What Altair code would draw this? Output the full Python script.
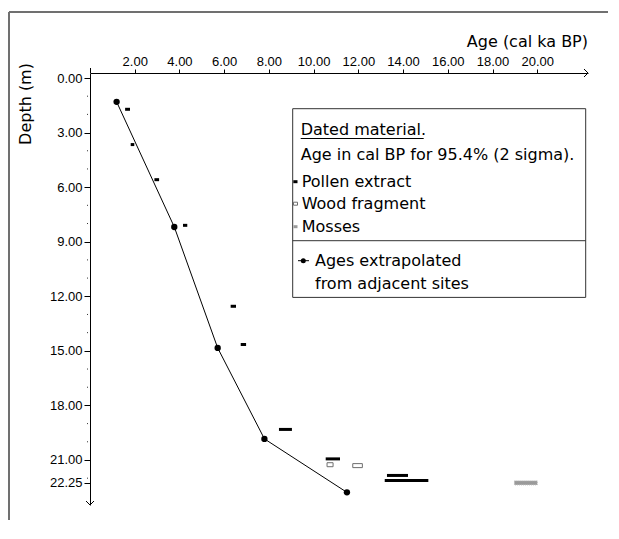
import altair as alt
import pandas as pd

# ---------------- data ----------------
ext_age = [1.19, 3.77, 5.71, 7.80, 11.49]
ext_depth = [1.31, 8.19, 14.84, 19.84, 22.78]

pollen_min = [1.57, 1.82, 2.88, 4.16, 6.29, 6.74, 8.45, 10.54, 13.28, 13.18]
pollen_max = [1.79, 1.98, 3.09, 4.35, 6.53, 6.98, 9.03, 11.18, 14.22, 15.13]
pollen_depth = [1.72, 3.66, 5.59, 8.10, 12.55, 14.65, 19.32, 20.94, 21.85, 22.13]

wood_min = [10.60, 11.75]
wood_max = [10.87, 12.18]
wood_depth = [21.26, 21.31]

moss_min = [18.98]
moss_max = [20.00]
moss_depth = [22.26]

age_ticks = [2, 4, 6, 8, 10, 12, 14, 16, 18, 20]
depth_ticks = [0, 3, 6, 9, 12, 15, 18, 21, 22.25]
depth_minor = [1, 2, 4, 5, 7, 8, 10, 11, 13, 14, 16, 17, 19, 20, 22]

x_title = "Age (cal ka BP)"
y_title = "Depth (m)"
legend_head = "Dated material."
legend_note = "Age in cal BP for 95.4% (2 sigma)."
legend_items = ["Pollen extract", "Wood fragment", "Mosses"]
legend_ext = ["Ages extrapolated", "from adjacent sites"]

# ---------------- layout ----------------
W, H = 498, 432
XMAX, YMAX = 22.27, 23.2
TXT = "DejaVu Sans"
TICKF = "Liberation Sans"

xs = alt.Scale(domain=[0, XMAX], nice=False, zero=False)
ys = alt.Scale(domain=[0, YMAX], nice=False, zero=False, reverse=True)

ext_df = pd.DataFrame({"age": ext_age, "depth": ext_depth})
pol_df = pd.DataFrame({"a0": pollen_min, "a1": pollen_max, "depth": pollen_depth})
wood_df = pd.DataFrame({"a0": wood_min, "a1": wood_max, "depth": wood_depth})
moss_df = pd.DataFrame({"a0": moss_min, "a1": moss_max, "depth": moss_depth})
minor_df = pd.DataFrame({"depth": depth_minor})
one = pd.DataFrame({"k": [0]})

x_axis = alt.Axis(orient="top", values=age_ticks, format=".2f", title=None, grid=False,
                  tickSize=4, tickColor="black", domainColor="black", labelColor="black",
                  labelFont=TICKF, labelFontSize=13, labelPadding=1, labelFlush=False)
y_axis = alt.Axis(orient="left", values=depth_ticks, format=".2f", title=None, grid=False,
                  tickSize=6, tickColor="black", domainColor="black", labelColor="black",
                  labelFont=TICKF, labelFontSize=13, labelPadding=2, labelFlush=False)

X = lambda f: alt.X(f, scale=xs, axis=x_axis)
Y = lambda f: alt.Y(f, scale=ys, axis=y_axis)

line = alt.Chart(ext_df).mark_line(color="black", strokeWidth=1).encode(
    x=X("age:Q"), y=Y("depth:Q"), order="depth:Q",
)
dots = alt.Chart(ext_df).mark_point(filled=True, color="black", size=40, opacity=1).encode(
    x=X("age:Q"), y=Y("depth:Q"),
)
pollen = alt.Chart(pol_df).mark_rule(color="black", strokeWidth=3, strokeCap="butt").encode(
    x=X("a0:Q"), x2="a1:Q", y=Y("depth:Q"),
)
wood = alt.Chart(wood_df).mark_bar(size=4, fill="white", stroke="#6e6e6e", strokeWidth=1).encode(
    x=X("a0:Q"), x2="a1:Q", y=Y("depth:Q"),
)
moss = alt.Chart(moss_df).mark_bar(size=4, fill="#9a9a9a", stroke="#b5b5b5", strokeWidth=1,
                                   strokeDash=[1, 1]).encode(
    x=X("a0:Q"), x2="a1:Q", y=Y("depth:Q"),
)
minor = alt.Chart(minor_df).mark_rule(color="#333", strokeWidth=1).encode(
    y=Y("depth:Q"), x=alt.value(-3), x2=alt.value(-2),
)

# axis arrows and the small cross at the origin
arrow_x = alt.Chart(one).mark_point(shape="M-1,-1L0,0L-1,1", filled=False, size=64,
                                    stroke="black", strokeWidth=1, opacity=1).encode(
    x=alt.value(W), y=alt.value(0))
arrow_y = alt.Chart(one).mark_point(shape="M-1,-1L0,0L1,-1", filled=False, size=64,
                                    stroke="black", strokeWidth=1, opacity=1).encode(
    x=alt.value(0), y=alt.value(H))
cross = alt.Chart(one).mark_rule(color="black", strokeWidth=1).encode(
    x=alt.value(0.5), y=alt.value(-5), y2=alt.value(0))

# outer frame (left and top edges)
frame_l = alt.Chart(one).mark_rule(color="#707070", strokeWidth=2).encode(
    x=alt.value(-81), y=alt.value(-61), y2=alt.value(H + 20))
frame_t = alt.Chart(one).mark_rule(color="#707070", strokeWidth=2).encode(
    x=alt.value(-81), x2=alt.value(W + 25), y=alt.value(-61))

# titles
xt = alt.Chart(one).mark_text(text=x_title, font=TXT, fontSize=16, align="right",
                              baseline="alphabetic", color="black").encode(
    x=alt.value(W), y=alt.value(-26))
yt = alt.Chart(one).mark_text(text=y_title, font=TXT, fontSize=16, align="center",
                              baseline="middle", angle=270, color="black").encode(
    x=alt.value(-64), y=alt.value(31))

# legend box
LX0, LX1, LY0, LY1, LDIV = 202.7, 495.7, 35.7, 224.4, 167.7
box = alt.Chart(one).mark_rect(fill="white", stroke="#333", strokeWidth=1).encode(
    x=alt.value(LX0), x2=alt.value(LX1), y=alt.value(LY0), y2=alt.value(LY1))
div = alt.Chart(one).mark_rule(color="#333", strokeWidth=1).encode(
    x=alt.value(LX0), x2=alt.value(LX1), y=alt.value(LDIV))

def ltext(t, x, y):
    return alt.Chart(one).mark_text(text=t, font=TXT, fontSize=16, align="left",
                                    baseline="middle", color="black").encode(
        x=alt.value(x), y=alt.value(y))

TX = 210.7
texts = [
    ltext(legend_head, TX, 56.7),
    ltext(legend_note, TX, 81.7),
    ltext(legend_items[0], TX + 1, 108.7),
    ltext(legend_items[1], TX + 1, 130.7),
    ltext(legend_items[2], TX + 1, 153.7),
    ltext(legend_ext[0], 225, 187.7),
    ltext(legend_ext[1], 225, 210.7),
]
underline = alt.Chart(one).mark_rule(color="black", strokeWidth=1).encode(
    x=alt.value(TX), x2=alt.value(TX + 123), y=alt.value(65.5))
sym_p = alt.Chart(one).mark_rule(color="black", strokeWidth=3, strokeCap="butt").encode(
    x=alt.value(203.3), x2=alt.value(207.5), y=alt.value(108.7))
sym_w = alt.Chart(one).mark_rect(fill="white", stroke="#6e6e6e", strokeWidth=1).encode(
    x=alt.value(203.5), x2=alt.value(207.5), y=alt.value(129.2), y2=alt.value(132.2))
sym_m = alt.Chart(one).mark_rect(fill="#9a9a9a").encode(
    x=alt.value(203.5), x2=alt.value(207.5), y=alt.value(152.2), y2=alt.value(155.2))
sym_el = alt.Chart(one).mark_rule(color="black", strokeWidth=1).encode(
    x=alt.value(208), x2=alt.value(219), y=alt.value(187.7))
sym_ed = alt.Chart(one).mark_point(filled=True, color="black", size=25, opacity=1).encode(
    x=alt.value(213.3), y=alt.value(187.7))

chart = alt.layer(
    line, frame_l, frame_t, box, div, underline, *texts, sym_p, sym_w, sym_m, sym_el, sym_ed,
    minor, pollen, wood, moss, dots, arrow_x, arrow_y, cross, xt, yt,
).properties(
    width=W, height=H,
    autosize=alt.AutoSizeParams(type="none"),
    padding={"left": 82, "top": 65, "right": 20, "bottom": 15},
    background="white",
).configure_view(stroke=None)

chart.save("out.html", embed_options={"renderer": "svg", "actions": False})
